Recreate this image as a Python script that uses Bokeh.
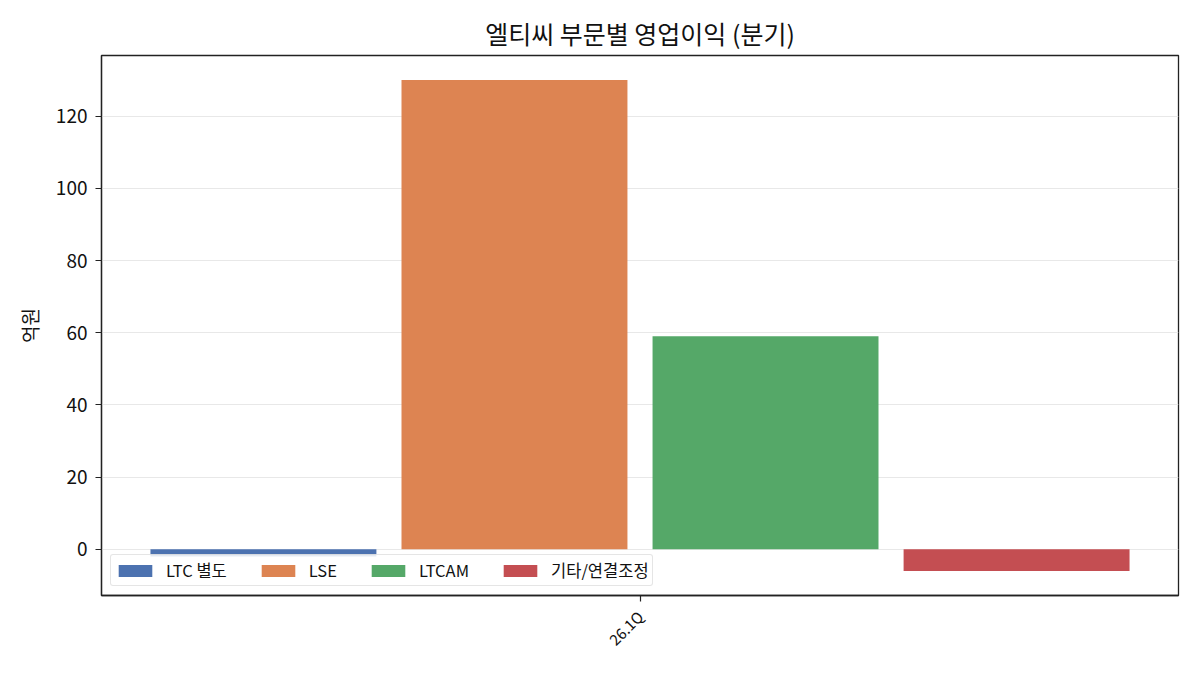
import math
from bokeh.plotting import figure
from bokeh.models import Range1d, FixedTicker, Legend, LegendItem
from bokeh.embed import file_html
from bokeh.resources import INLINE

# ---- data ----
title_text = "엘티씨 부문별 영업이익 (분기)"
y_label = "억원"
categories = ["26.1Q"]
series_names = ["LTC 별도", "LSE", "LTCAM", "기타/연결조정"]
series_values = [[-2.0], [130.0], [59.0], [-6.0]]
series_colors = ["#4c72b0", "#dd8452", "#55a868", "#c44e52"]
y_ticks = [0, 20, 40, 60, 80, 100, 120]

FONT = "Noto Sans CJK KR"

n = len(series_names)
group_w = 0.8
step = group_w / n
bar_w = step * 0.9

# axis ranges (matplotlib style 5% margins)
x_lo = -group_w / 2 + (step - bar_w) / 2
x_hi = (len(categories) - 1) + group_w / 2 - (step - bar_w) / 2
xm = (x_hi - x_lo) * 0.05
all_vals = [v for s in series_values for v in s] + [0]
ymin, ymax = min(all_vals), max(all_vals)
ym = (ymax - ymin) * 0.05

p = figure(width=1184, height=659, output_backend="svg", toolbar_location=None,
           x_range=Range1d(x_lo - xm, x_hi + xm),
           y_range=Range1d(ymin - ym, ymax + ym),
           min_border_left=101, min_border_right=6, min_border_top=55,
           min_border_bottom=63)

renderers = []
for i, (name, vals, col) in enumerate(zip(series_names, series_values, series_colors)):
    xs = [c_i - group_w / 2 + step * (i + 0.5) for c_i in range(len(categories))]
    r = p.vbar(x=xs, top=vals, bottom=0, width=bar_w, fill_color=col, line_color=None)
    renderers.append((name, r))

# title
p.title.text = title_text
p.title.align = "center"
p.title.text_font = FONT
p.title.text_font_size = "25px"
p.title.text_font_style = "normal"
p.title.text_color = "#111111"
p.title.standoff = 10

# axes
p.xaxis.ticker = FixedTicker(ticks=list(range(len(categories))))
p.xaxis.major_label_overrides = {i: c for i, c in enumerate(categories)}
p.xaxis.major_label_orientation = math.pi / 4
p.yaxis.ticker = FixedTicker(ticks=y_ticks)
p.yaxis.axis_label = y_label

for ax in (p.xaxis, p.yaxis):
    ax.axis_line_color = "#222222"
    ax.axis_line_width = 1.3
    ax.major_tick_line_color = "#222222"
    ax.major_tick_line_width = 1.2
    ax.major_tick_out = 6
    ax.major_tick_in = 0
    ax.minor_tick_line_color = None
    ax.major_label_text_font = FONT
    ax.major_label_text_color = "#111111"
    ax.axis_label_text_font = FONT
    ax.axis_label_text_font_style = "normal"
    ax.axis_label_text_color = "#111111"

p.yaxis.major_label_text_font_size = "19px"
p.yaxis.major_label_standoff = 8
p.xaxis.major_label_text_font_size = "15px"
p.xaxis.major_label_standoff = 12
p.yaxis.axis_label_text_font_size = "19px"
p.yaxis.axis_label_standoff = 10

p.xgrid.grid_line_color = None
p.ygrid.grid_line_color = "#e8e8e8"
p.ygrid.grid_line_width = 1.2

p.outline_line_color = "#222222"
p.outline_line_width = 1.3
p.outline_line_alpha = 1.0
p.background_fill_color = "white"
p.border_fill_color = "white"

legend = Legend(items=[LegendItem(label=nm, renderers=[r]) for nm, r in renderers],
                location="bottom_left", orientation="horizontal")
legend.label_text_font = FONT
legend.label_text_font_size = "16.5px"
legend.label_text_color = "#111111"
legend.glyph_width = 42
legend.glyph_height = 15
legend.label_standoff = 10
legend.spacing = 30
legend.padding = 3
legend.margin = 9
legend.border_line_color = "#cccccc"
legend.border_line_width = 1.3
legend.border_radius = 3
legend.background_fill_alpha = 0.85
p.add_layout(legend, "center")

open("out.html", "w").write(file_html(p, INLINE))
